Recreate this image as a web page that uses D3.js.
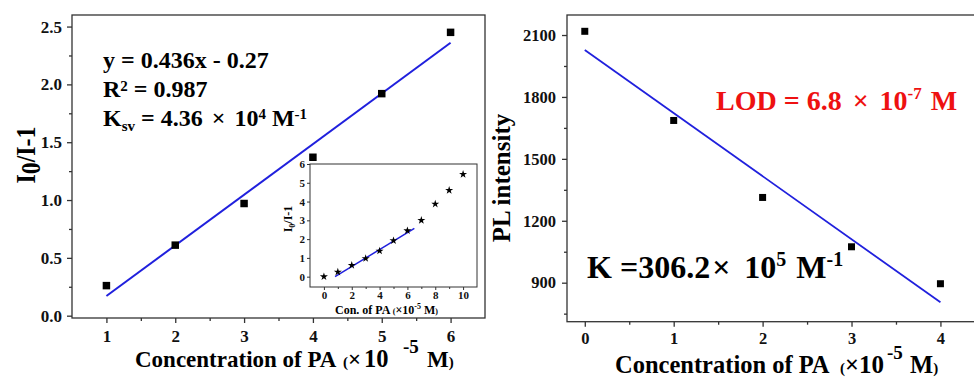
<!DOCTYPE html>
<html>
<head>
<meta charset="utf-8">
<script src="https://cdn.jsdelivr.net/npm/d3@7"></script>
<style>
body { margin: 0; background: #fff; }
svg text { font-family: "Liberation Serif", "Times New Roman", serif; font-weight: bold; }
</style>
</head>
<body>
<div id="chart"></div>
<script>
// left panel: I0/I-1 vs concentration
var concA = [1, 2, 3, 4, 5, 6];
var ratioA = [0.26, 0.61, 0.97, 1.37, 1.92, 2.45];
var fitXA = [1, 6];
var fitYA = [0.17, 2.36];
var xTicksA = [1, 2, 3, 4, 5, 6];
var xMinorA = [1.5, 2.5, 3.5, 4.5, 5.5];
var yTicksA = [0.0, 0.5, 1.0, 1.5, 2.0, 2.5];
var yMinorA = [0.25, 0.75, 1.25, 1.75, 2.25];

// inset: full range
var concIn = [0, 1, 2, 3, 4, 5, 6, 7, 8, 9, 10];
var ratioIn = [0.0, 0.25, 0.61, 0.97, 1.37, 1.92, 2.45, 3.0, 3.87, 4.6, 5.45];
var fitXIn = [0.8, 6.5];
var fitYIn = [0.0, 2.57];
var xTicksIn = [0, 2, 4, 6, 8, 10];
var xMinorIn = [1, 3, 5, 7, 9];
var yTicksIn = [0, 1, 2, 3, 4, 5, 6];

// right panel: PL intensity vs concentration
var concB = [0, 1, 2, 3, 4];
var plB = [2118, 1686, 1313, 1074, 895];
var fitXB = [0, 4];
var fitYB = [2027, 805];
var xTicksB = [0, 1, 2, 3, 4];
var xMinorB = [0.5, 1.5, 2.5, 3.5];
var yTicksB = [900, 1200, 1500, 1800, 2100];
var yMinorB = [750, 1050, 1350, 1650, 1950];

var W = 974, H = 378;
var axisColor = "#333";
var blue = "#2020dd";

var svg = d3.select("#chart").append("svg")
    .attr("width", W)
    .attr("height", H);

function drawAxes(x, y, o) {
    var xr = x.range(), yr = y.range();
    // frame
    svg.append("rect")
        .attr("x", xr[0]).attr("y", yr[1])
        .attr("width", xr[1] - xr[0]).attr("height", yr[0] - yr[1])
        .attr("fill", o.fill || "none")
        .attr("stroke", axisColor)
        .attr("stroke-width", o.sw);

    var gx = svg.append("g")
        .attr("transform", "translate(0," + yr[0] + ")")
        .call(d3.axisBottom(x).tickValues(o.xTicks).tickSize(o.major).tickPadding(o.xPad).tickFormat(o.xFmt));
    var gxm = svg.append("g")
        .attr("transform", "translate(0," + yr[0] + ")")
        .call(d3.axisBottom(x).tickValues(o.xMinor).tickSize(o.minor).tickFormat(""));

    var gy = svg.append("g")
        .attr("transform", "translate(" + xr[0] + ",0)")
        .call(d3.axisLeft(y).tickValues(o.yTicks).tickSize(o.major).tickPadding(o.yPad).tickFormat(o.yFmt));
    var gym = svg.append("g")
        .attr("transform", "translate(" + xr[0] + ",0)")
        .call(d3.axisLeft(y).tickValues(o.yMinor || []).tickSize(o.minor).tickFormat(""));

    [gx, gxm, gy, gym].forEach(function (g) {
        g.select(".domain").remove();
        g.selectAll("line").attr("stroke", axisColor).attr("stroke-width", o.sw);
        g.selectAll("text")
            .attr("fill", "#111")
            .style("font-size", o.fs + "px");
    });
}

// x axis title: "Concentration of PA (×10^-5 M)"
// p = page x of "(", "10", "-5" and "M"
function xLabel(tx, ty, fs, p, fs10) {
    var t = svg.append("text")
        .attr("x", tx).attr("y", ty)
        .style("font-size", fs + "px");
    t.append("tspan").text("Concentration of PA");
    t.append("tspan").attr("x", p[0]).style("font-size", "15px").text("(");
    t.append("tspan").text("\u00d7");
    t.append("tspan").attr("x", p[1]).style("font-size", fs10 + "px").text("10");
    t.append("tspan").attr("x", p[2]).attr("dy", -14).style("font-size", "19px").text("-5");
    t.append("tspan").attr("x", p[3]).attr("dy", 14).text("M");
    t.append("tspan").style("font-size", "15px").text(")");
}

// ---------- left panel ----------
var xA = d3.scaleLinear().domain([0.5, 6.5]).range([72, 485]);
var yA = d3.scaleLinear().domain([-0.02, 2.6]).range([318, 15]);

drawAxes(xA, yA, {
    xTicks: xTicksA, xMinor: xMinorA, yTicks: yTicksA, yMinor: yMinorA,
    xFmt: d3.format("d"), yFmt: d3.format(".1f"),
    major: 5, minor: 3, xPad: 7, yPad: 5, fs: 17, sw: 1.3
});

var lineA = d3.line()
    .x(function (d) { return xA(d[0]); })
    .y(function (d) { return yA(d[1]); });

svg.append("path")
    .datum(d3.zip(fitXA, fitYA))
    .attr("d", lineA)
    .attr("fill", "none")
    .attr("stroke", blue)
    .attr("stroke-width", 2);

svg.selectAll(".ptA")
    .data(d3.zip(concA, ratioA))
    .enter().append("path")
    .attr("class", "ptA")
    .attr("transform", function (d) { return "translate(" + xA(d[0]) + "," + yA(d[1]) + ")"; })
    .attr("d", d3.symbol().type(d3.symbolSquare).size(56))
    .attr("fill", "#000");

// equation text
var eq = svg.append("g").attr("transform", "translate(103,0)");
eq.append("text").attr("y", 68).style("font-size", "24px").text("y = 0.436x - 0.27");

var r2 = eq.append("text").attr("y", 97).style("font-size", "24px");
r2.append("tspan").text("R");
r2.append("tspan").attr("dy", -6).style("font-size", "15px").text("2");
r2.append("tspan").attr("dy", 6).text(" = 0.987");

var ksv = eq.append("text").attr("y", 126).style("font-size", "24px");
ksv.append("tspan").text("K");
ksv.append("tspan").attr("dy", 5).style("font-size", "15px").text("sv");
ksv.append("tspan").attr("dy", -5).text(" = 4.36 ");
ksv.append("tspan").attr("dx", 3).text("\u00d7");
ksv.append("tspan").attr("dx", 3).text(" 10");
ksv.append("tspan").attr("dy", -7).style("font-size", "15px").text("4");
ksv.append("tspan").attr("dy", 7).text(" M");
ksv.append("tspan").attr("dy", -7).style("font-size", "15px").text("-1");

// y label
var ylA = svg.append("text")
    .attr("transform", "translate(35,155) rotate(-90) scale(0.85,1)")
    .attr("text-anchor", "middle")
    .style("font-size", "28px");
ylA.append("tspan").text("I");
ylA.append("tspan").attr("dy", 5).text("0");
ylA.append("tspan").attr("dy", -5).text("/I-1");

xLabel(135, 367, 23, [343, 364, 403, 427], 24.5);

// ---------- inset ----------
var xIn = d3.scaleLinear().domain([-1, 11]).range([310, 477]);
var yIn = d3.scaleLinear().domain([-0.55, 6]).range([287, 164]);

drawAxes(xIn, yIn, {
    xTicks: xTicksIn, xMinor: xMinorIn, yTicks: yTicksIn, yMinor: [],
    xFmt: d3.format("d"), yFmt: d3.format("d"),
    major: 3, minor: 2, xPad: 1.5, yPad: 2, fs: 11, sw: 1, fill: "#fff"
});

var lineIn = d3.line()
    .x(function (d) { return xIn(d[0]); })
    .y(function (d) { return yIn(d[1]); });

svg.append("path")
    .datum(d3.zip(fitXIn, fitYIn))
    .attr("d", lineIn)
    .attr("fill", "none")
    .attr("stroke", blue)
    .attr("stroke-width", 1.5);

svg.selectAll(".ptIn")
    .data(d3.zip(concIn, ratioIn))
    .enter().append("path")
    .attr("class", "ptIn")
    .attr("transform", function (d) { return "translate(" + xIn(d[0]) + "," + yIn(d[1]) + ")"; })
    .attr("d", d3.symbol().type(d3.symbolStar).size(20))
    .attr("fill", "#000");

var ylIn = svg.append("text")
    .attr("transform", "translate(292,219) rotate(-90)")
    .attr("text-anchor", "middle")
    .style("font-size", "12px");
ylIn.append("tspan").text("I");
ylIn.append("tspan").attr("dy", 3).style("font-size", "8px").text("0");
ylIn.append("tspan").attr("dy", -3).text("/I-1");

var xlIn = svg.append("text")
    .attr("x", 335).attr("y", 314)
    .style("font-size", "12px");
xlIn.append("tspan").text("Con. of PA ");
xlIn.append("tspan").style("font-size", "8px").text("(");
xlIn.append("tspan").text("\u00d710");
xlIn.append("tspan").attr("dy", -5).style("font-size", "8px").text("-5");
xlIn.append("tspan").attr("dy", 5).text(" M");
xlIn.append("tspan").style("font-size", "8px").text(")");

// ---------- right panel ----------
var xB = d3.scaleLinear().domain([-0.2, 4.4]).range([567, 976]);
var yB = d3.scaleLinear().domain([711, 2197]).range([321.7, 15]);

drawAxes(xB, yB, {
    xTicks: xTicksB, xMinor: xMinorB, yTicks: yTicksB, yMinor: yMinorB,
    xFmt: d3.format("d"), yFmt: d3.format("d"),
    major: 5, minor: 3, xPad: 6, yPad: 6, fs: 16.5, sw: 1.3
});

var lineB = d3.line()
    .x(function (d) { return xB(d[0]); })
    .y(function (d) { return yB(d[1]); });

svg.append("path")
    .datum(d3.zip(fitXB, fitYB))
    .attr("d", lineB)
    .attr("fill", "none")
    .attr("stroke", blue)
    .attr("stroke-width", 1.8);

svg.selectAll(".ptB")
    .data(d3.zip(concB, plB))
    .enter().append("path")
    .attr("class", "ptB")
    .attr("transform", function (d) { return "translate(" + xB(d[0]) + "," + yB(d[1]) + ")"; })
    .attr("d", d3.symbol().type(d3.symbolSquare).size(49))
    .attr("fill", "#000");

var lod = svg.append("text")
    .attr("x", 716).attr("y", 110)
    .attr("fill", "#ee1111")
    .style("font-size", "28px");
lod.append("tspan").text("LOD = 6.8 ");
lod.append("tspan").attr("dx", 4).text("\u00d7");
lod.append("tspan").attr("dx", 4).text(" 10");
lod.append("tspan").attr("dy", -11).style("font-size", "17px").text("-7");
lod.append("tspan").attr("dy", 11).attr("dx", 9).text("M");

var kt = svg.append("text")
    .attr("x", 587).attr("y", 278)
    .style("font-size", "32px");
kt.append("tspan").text("K =306.2");
kt.append("tspan").attr("dx", 2).text("\u00d7");
kt.append("tspan").attr("dx", 6).text(" 10");
kt.append("tspan").attr("dy", -12).style("font-size", "20px").text("5");
kt.append("tspan").attr("dy", 12).attr("dx", 2).text(" M");
kt.append("tspan").attr("dy", -12).style("font-size", "20px").text("-1");

svg.append("text")
    .attr("transform", "translate(510,178) rotate(-90)")
    .attr("text-anchor", "middle")
    .style("font-size", "25px")
    .text("PL intensity");

xLabel(615, 373, 24.5, [840, 859, 887, 910], 25);
</script>
</body>
</html>
